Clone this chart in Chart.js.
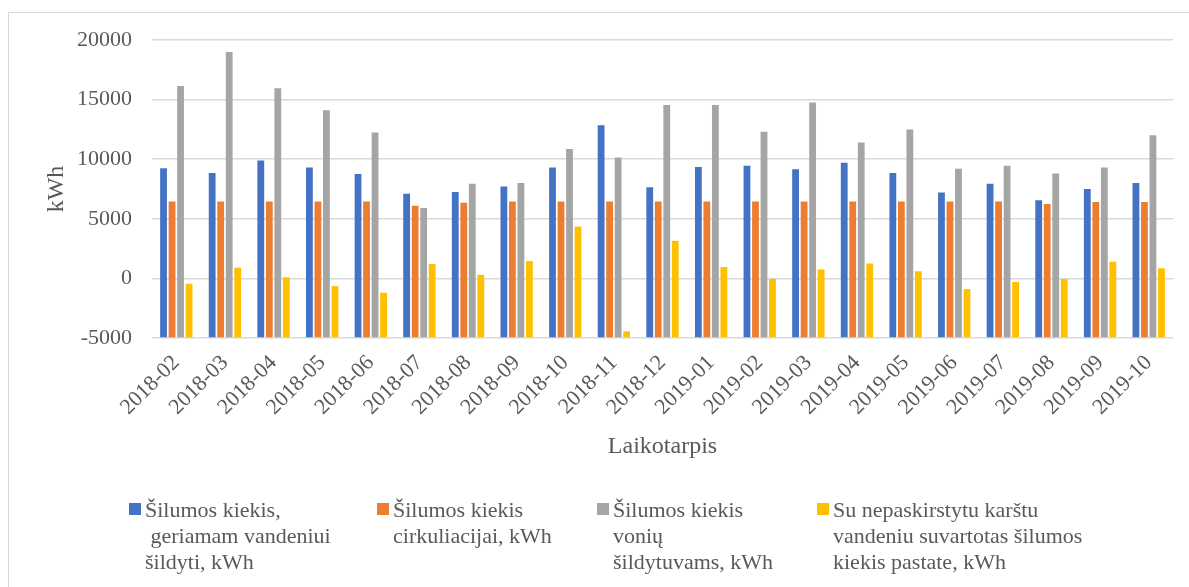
<!DOCTYPE html>
<html lang="lt">
<head>
<meta charset="utf-8">
<title>Šilumos kiekis</title>
<script src="https://cdn.jsdelivr.net/npm/chart.js@4.4.1/dist/chart.umd.min.js"></script>
<style>
  html, body { margin: 0; padding: 0; background: #ffffff; }
  #wrap { position: relative; width: 1189px; height: 587px; overflow: hidden; }
  #frame { position: absolute; left: 8px; top: 12px; width: 1300px; height: 700px;
           border-left: 1px solid #d9d9d9; border-top: 1px solid #d9d9d9; }
  canvas { position: absolute; left: 0; top: 0; }
  .lg { position: absolute; top: 497px; font-family: "Liberation Serif", "Times New Roman", serif;
        font-size: 22px; line-height: 26px; color: #595959; white-space: pre; }
  .lg .sw { position: absolute; top: 6px; width: 12px; height: 12px; }
</style>
</head>
<body>
<div id="wrap">
  <div id="frame"></div>
  <canvas id="chart" width="1189" height="587"></canvas>
  <div id="legend"></div>
</div>
<script>
// Months on the category axis
const months = ["2018-02","2018-03","2018-04","2018-05","2018-06","2018-07","2018-08",
                "2018-09","2018-10","2018-11","2018-12","2019-01","2019-02","2019-03",
                "2019-04","2019-05","2019-06","2019-07","2019-08","2019-09","2019-10"];

// Monthly heat amounts, kWh
const drinkingWaterHeat = [9250, 8850, 9900, 9300, 8750, 7100, 7250, 7700, 9300, 12850, 7650,
                           9350, 9450, 9150, 9700, 8850, 7200, 7950, 6550, 7500, 8000];
const circulationHeat   = [6450, 6450, 6450, 6450, 6450, 6100, 6350, 6450, 6450, 6450, 6450,
                           6450, 6450, 6450, 6450, 6450, 6450, 6450, 6250, 6400, 6400];
const towelRailHeat     = [16150, 19000, 15950, 14100, 12250, 5900, 7950, 8000, 10850, 10150, 14550,
                           14550, 12300, 14750, 11400, 12500, 9200, 9450, 8800, 9300, 12000];
const unallocatedHeat   = [-450, 900, 100, -650, -1200, 1200, 300, 1450, 4350, -4450, 3150,
                           950, -50, 750, 1250, 600, -900, -300, -50, 1400, 850];

// Value axis ticks
const yTicks = [-5000, 0, 5000, 10000, 15000, 20000];

// Series names, one entry per legend line
const seriesNames = [
  ["Šilumos kiekis,", " geriamam vandeniui", "šildyti, kWh"],
  ["Šilumos kiekis", "cirkuliacijai, kWh"],
  ["Šilumos kiekis", "vonių", "šildytuvams, kWh"],
  ["Su nepaskirstytu karštu", "vandeniu suvartotas šilumos", "kiekis pastate, kWh"]
];
const seriesColors = ["#4472c4", "#ed7d31", "#a5a5a5", "#ffc000"];
const seriesValues = [drinkingWaterHeat, circulationHeat, towelRailHeat, unallocatedHeat];
const legendX = [129, 377, 597, 817];

const serif = "'Liberation Serif', 'Times New Roman', serif";
const textColor = "#595959";
const gridColor = "#d9d9d9";

const datasets = seriesValues.map((vals, i) => ({
  label: seriesNames[i].map(s => s.trim()).join(" "),
  data: vals,
  backgroundColor: seriesColors[i],
  borderWidth: 0,
  base: yTicks[0],
  categoryPercentage: 0.7,
  barPercentage: 0.8
}));

new Chart(document.getElementById("chart"), {
  type: "bar",
  data: { labels: months, datasets: datasets },
  options: {
    responsive: false,
    animation: false,
    devicePixelRatio: 1,
    layout: { padding: { left: 38, top: 40, right: 16, bottom: 122 } },
    plugins: { legend: { display: false }, tooltip: { enabled: false } },
    scales: {
      x: {
        grid: { display: false, drawTicks: false },
        border: { display: false },
        ticks: {
          color: textColor,
          font: { family: serif, size: 22 },
          maxRotation: 45, minRotation: 45,
          padding: 12, autoSkip: false
        },
        title: {
          display: true, text: "Laikotarpis", color: textColor,
          font: { family: serif, size: 24 }, padding: { top: 4, bottom: 4 }
        },
        afterFit: s => { s.height = 127; }
      },
      y: {
        min: yTicks[0], max: yTicks[yTicks.length - 1],
        afterBuildTicks: s => { s.ticks = yTicks.map(v => ({ value: v })); },
        grid: { color: gridColor, lineWidth: 1.5, drawTicks: false },
        border: { display: false },
        ticks: {
          color: textColor, font: { family: serif, size: 22 }, padding: 20,
          callback: v => String(v)
        },
        title: {
          display: true, text: "kWh", color: textColor,
          font: { family: serif, size: 24 }, padding: { top: 4, bottom: 4 }
        },
        afterFit: s => { s.width = 114; }
      }
    }
  }
});

// Legend built from the series names and colours
const legend = document.getElementById("legend");
seriesNames.forEach((lines, i) => {
  const item = document.createElement("div");
  item.className = "lg";
  item.style.left = (legendX[i] + 16) + "px";
  const sw = document.createElement("span");
  sw.className = "sw";
  sw.style.left = "-16px";
  sw.style.background = seriesColors[i];
  item.appendChild(sw);
  item.appendChild(document.createTextNode(lines.join("\n")));
  legend.appendChild(item);
});
</script>
</body>
</html>
